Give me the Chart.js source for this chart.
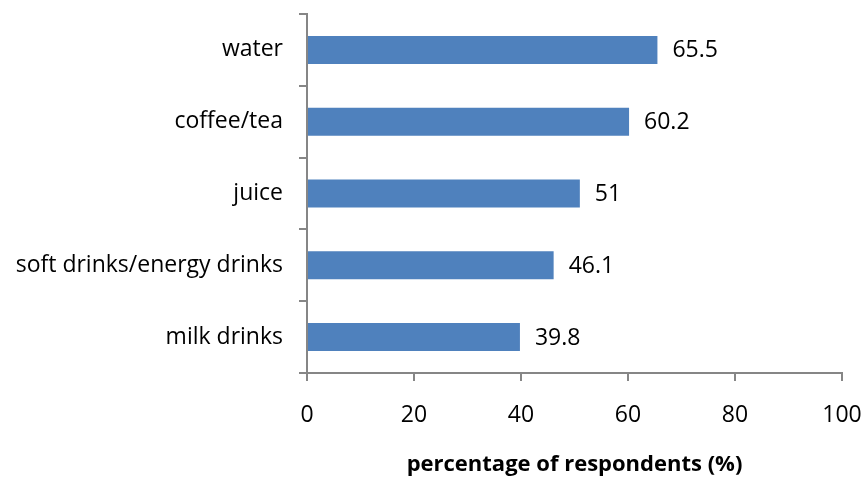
<!DOCTYPE html>
<html>
<head>
<meta charset="utf-8">
<script src="https://cdn.jsdelivr.net/npm/chart.js@4/dist/chart.umd.min.js"></script>
<style>
  html, body { margin: 0; padding: 0; background: #fff; }
  #wrap { width: 864px; height: 482px; }
</style>
</head>
<body>
<div id="wrap"><canvas id="chart"></canvas></div>
<script>
// drinks consumed, share of respondents
const drinks = ['water', 'coffee/tea', 'juice', 'soft drinks/energy drinks', 'milk drinks'];
const percent = [65.5, 60.2, 51, 46.1, 39.8];
const xTicks = [0, 20, 40, 60, 80, 100];

const FONT = '"Open Sans", Lato, sans-serif';
const AXIS = '#868686';

// value labels to the right of each bar
const barValues = {
  id: 'barValues',
  afterDatasetsDraw(chart) {
    const ctx = chart.ctx;
    const meta = chart.getDatasetMeta(0);
    ctx.save();
    ctx.font = '23px ' + FONT;
    ctx.fillStyle = '#000';
    ctx.textAlign = 'left';
    ctx.textBaseline = 'middle';
    meta.data.forEach((bar, i) => {
      ctx.fillText(String(percent[i]), bar.x + 15, bar.y + 1);
    });
    ctx.restore();
  }
};

new Chart(document.getElementById('chart'), {
  type: 'bar',
  data: {
    labels: drinks,
    datasets: [{
      data: percent,
      backgroundColor: '#4F81BD',
      borderWidth: 0,
      categoryPercentage: 1,
      barPercentage: 0.39,
    }]
  },
  options: {
    indexAxis: 'y',
    responsive: true,
    maintainAspectRatio: false,
    animation: false,
    layout: { padding: 0 },
    plugins: { legend: { display: false }, tooltip: { enabled: false } },
    scales: {
      x: {
        min: 0, max: 100,
        afterBuildTicks: s => { s.ticks = xTicks.map(v => ({ value: v })); },
        // fixed axis box; let the "100" label overhang the plot edge
        afterFit: s => { s.height = 109; s.paddingRight = 22; },
        border: { color: AXIS, width: 2 },
        grid: { drawOnChartArea: false, color: AXIS, lineWidth: 2, tickLength: 8 },
        ticks: { color: '#000', font: { family: FONT, size: 23 }, padding: 21 },
        title: {
          display: true,
          text: 'percentage of respondents (%)',
          color: '#000',
          font: { family: FONT, size: 22, weight: 'bold' },
          padding: { top: 12 }
        }
      },
      y: {
        afterFit: s => { s.width = 307; s.paddingTop = 14; s.paddingBottom = 0; },
        border: { color: AXIS, width: 2 },
        grid: { offset: true, drawOnChartArea: false, color: AXIS, lineWidth: 2, tickLength: 8 },
        ticks: { color: '#000', font: { family: FONT, size: 23 }, padding: 16 }
      }
    }
  },
  plugins: [barValues]
});
</script>
</body>
</html>
